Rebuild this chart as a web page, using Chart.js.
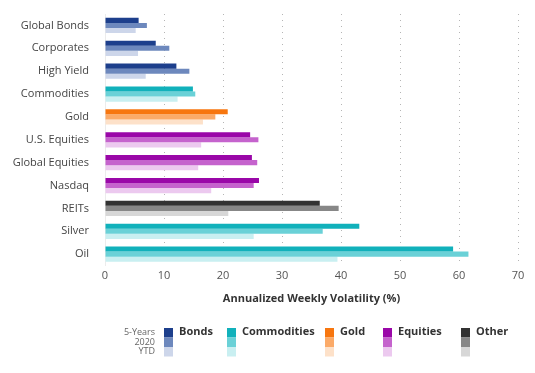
<!DOCTYPE html>
<html>
<head>
<meta charset="utf-8">
<script src="https://cdn.jsdelivr.net/npm/chart.js@4/dist/chart.umd.min.js"></script>
<style>
html,body{margin:0;padding:0;background:#fff;}
#wrap{position:relative;width:535px;height:373px;}
</style>
</head>
<body>
<div id="wrap"><canvas id="c" width="535" height="373"></canvas></div>
<script>
const categories = ['Global Bonds','Corporates','High Yield','Commodities','Gold','U.S. Equities','Global Equities','Nasdaq','REITs','Silver','Oil'];
const groupOf = ['Bonds','Bonds','Bonds','Commodities','Gold','Equities','Equities','Equities','Other','Commodities','Commodities'];
const periods = ['5-Years','2020','YTD'];
const fiveYears = [5.7, 8.6, 12.1, 14.9, 20.8, 24.6, 24.9, 26.1, 36.4, 43.1, 59.0];
const y2020     = [7.1, 10.9, 14.3, 15.3, 18.7, 26.0, 25.8, 25.2, 39.6, 36.9, 61.6];
const ytd       = [5.2, 5.6, 6.9, 12.3, 16.6, 16.3, 15.8, 18.0, 20.9, 25.2, 39.4];
const xTicks = [0,10,20,30,40,50,60,70];
const groups = ['Bonds','Commodities','Gold','Equities','Other'];
const palette = {
  Bonds:       ['#1d3f8c','#6d88bd','#cdd6ea'],
  Commodities: ['#11b1bb','#6ad1d7','#c9eff1'],
  Gold:        ['#f7760f','#fbaa68','#fde1c9'],
  Equities:    ['#9a07a8','#c563cd','#ecc9ef'],
  Other:       ['#323232','#878787','#d7d7d7']
};
const seriesVals = [fiveYears, y2020, ytd];

const datasets = periods.map((p, i) => ({
  label: p,
  data: seriesVals[i],
  backgroundColor: groupOf.map(g => palette[g][i]),
  borderWidth: 0,
  categoryPercentage: 0.67,
  barPercentage: 1.0
}));

const legendPlugin = {
  id: 'matrixLegend',
  afterDraw(chart) {
    const ctx = chart.ctx;
    ctx.save();
    const swX = {Bonds:164, Commodities:227, Gold:325, Equities:383, Other:461};
    const top = 328, h = 9.5, w = 9;
    ctx.font = '9px "Open Sans", sans-serif';
    ctx.fillStyle = '#666';
    ctx.textAlign = 'right';
    ctx.textBaseline = 'middle';
    periods.forEach((p, i) => ctx.fillText(p, 155, top + h * i + h / 2));
    groups.forEach(g => {
      for (let i = 0; i < 3; i++) {
        ctx.fillStyle = palette[g][i];
        ctx.fillRect(swX[g], top + h * i, w, h);
      }
      ctx.fillStyle = '#333';
      ctx.font = 'bold 11px "Open Sans", sans-serif';
      ctx.textAlign = 'left';
      ctx.fillText(g, swX[g] + w + 6, top + 4);
    });
    ctx.restore();
  }
};

new Chart(document.getElementById('c'), {
  type: 'bar',
  data: { labels: categories, datasets },
  options: {
    indexAxis: 'y',
    responsive: false,
    animation: false,
    layout: { padding: { left: 0, right: 17, top: 14, bottom: 64 } },
    plugins: { legend: { display: false }, tooltip: { enabled: false } },
    scales: {
      x: {
        min: 0, max: 70,
        afterBuildTicks(scale) { scale.ticks = xTicks.map(v => ({ value: v })); },
        ticks: { color: '#555', font: { family: '"Open Sans", sans-serif', size: 11 }, padding: 4 },
        grid: {
          drawTicks: false,
          color: c => c.tick && c.tick.value === 0 ? '#ececec' : '#b5b5b5',
          lineWidth: 1
        },
        border: { display: false, dash: c => (c.tick && c.tick.value === 0) ? [] : [1, 5] },
        title: {
          display: true,
          text: 'Annualized Weekly Volatility (%)',
          color: '#333',
          font: { family: '"Open Sans", sans-serif', size: 11, weight: 'bold' },
          padding: { top: 5 }
        }
      },
      y: {
        grid: { display: false, drawTicks: true, tickLength: 14 },
        border: { display: false },
        ticks: { color: '#444', font: { family: '"Open Sans", sans-serif', size: 11 }, padding: 2 },
        afterFit(scale) { scale.width = 105; }
      }
    }
  },
  plugins: [legendPlugin]
});
</script>
</body>
</html>
